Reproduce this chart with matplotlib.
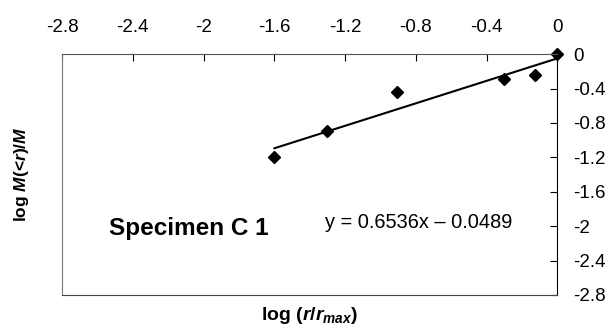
import numpy as np
import matplotlib
matplotlib.use("Agg")
from matplotlib import pyplot as plt

plt.rcParams['font.family'] = ['Liberation Sans', 'DejaVu Sans']
plt.rcParams['mathtext.fontset'] = 'custom'
plt.rcParams['mathtext.rm'] = 'Liberation Sans:bold'
plt.rcParams['mathtext.it'] = 'Liberation Sans:italic:bold'
plt.rcParams['mathtext.bf'] = 'Liberation Sans:bold'

# data
log_r = [-1.6, -1.3, -0.906, -0.305, -0.128, 0.0]
log_m = [-1.20, -0.895, -0.438, -0.295, -0.248, 0.0]

# trendline
slope = 0.6536
intercept = -0.0489
fit_x = np.array([-1.6, 0.0])

x_ticks = [-2.8, -2.4, -2, -1.6, -1.2, -0.8, -0.4, 0]
y_ticks = [0, -0.4, -0.8, -1.2, -1.6, -2, -2.4, -2.8]

fig = plt.figure(figsize=(6.11, 3.34), dpi=100)
ax = fig.add_axes([0.1015, 0.1168, 0.8109, 0.7212])

ax.plot(fit_x, slope * fit_x + intercept, color='black', lw=1.5)
ax.plot(log_r, log_m, 'D', color='black', ms=6.5, clip_on=False)

ax.set_xlim(-2.8, 0)
ax.set_ylim(-2.8, 0)
ax.set_xticks(x_ticks)
ax.set_xticklabels([f'{t:g}' for t in x_ticks])
ax.set_yticks(y_ticks)
ax.set_yticklabels([f'{t:g}' for t in y_ticks])

ax.xaxis.tick_top()
ax.yaxis.tick_right()
ax.tick_params(axis='x', direction='in', length=5, width=0.8, labelsize=13.5, pad=13)
ax.tick_params(axis='y', direction='in', length=5, width=0.8, labelsize=13.5, pad=11)
for s in ax.spines.values():
    s.set_linewidth(0.8)
ax.spines['left'].set_color('#777777')
ax.spines['top'].set_color('#555555')
ax.spines['bottom'].set_color('#444444')

ax.xaxis.set_label_position('bottom')
ax.set_xlabel(r'log ($r$/$r_{max}$)', fontsize=14, fontweight='bold', labelpad=7)
ax.yaxis.set_label_position('left')
ax.set_ylabel(r'log $M$(<$r$)/$M$', fontsize=12.5, fontweight='bold', labelpad=22)

ax.text(-2.535, -2.10, 'Specimen C 1', fontsize=17.5, fontweight='bold',
        ha='left', va='baseline')
ax.text(-1.315, -2.027, 'y = 0.6536x \u2013 0.0489', fontsize=14.4,
        ha='left', va='baseline')

fig.savefig('out.png', dpi=100)
